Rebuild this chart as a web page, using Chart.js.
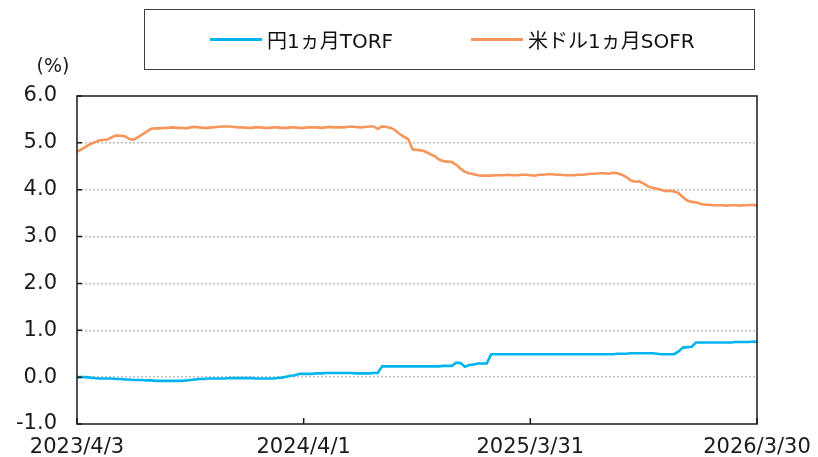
<!DOCTYPE html>
<html>
<head>
<meta charset="utf-8">
<script src="https://cdn.jsdelivr.net/npm/chart.js@4"></script>
<style>
  body { margin: 0; background: #fff; }
  #wrap { position: relative; width: 818px; height: 457px; }
  #legend {
    position: absolute; left: 144px; top: 9px; width: 611px; height: 61px;
    border: 1px solid #404040; box-sizing: border-box;
    font-family: 'DejaVu Sans', 'Noto Sans CJK JP', sans-serif; font-size: 20px; color: #111;
  }
  .item { position: absolute; top: 0; height: 59px; display: flex; align-items: center; }
  .item i { display: inline-block; width: 52px; height: 3px; margin-right: 5px; }
</style>
</head>
<body>
<div id="wrap">
  <canvas id="myChart" width="818" height="457"></canvas>
  <div id="legend"></div>
</div>
<script>
// ==== ma'lumotlar ====
const seriesNames = ['円1ヵ月TORF', '米ドル1ヵ月SOFR'];
const seriesColors = ['#00B4EF', '#F7965A'];
const tickLabels = ['2023/4/3', '2024/4/1', '2025/3/31', '2026/3/30'];
const yTicks = [-1, 0, 1, 2, 3, 4, 5, 6];

// haftalik qiymatlar, 2023/4/3 dan 2026/3/30 gacha (157 hafta)
const torf = [
  0.00, 0.00, 0.00, -0.01, -0.02, -0.03, -0.03, -0.03, -0.03, -0.04,
  -0.04, -0.05, -0.05, -0.06, -0.06, -0.06, -0.07, -0.07, -0.08, -0.08,
  -0.08, -0.08, -0.08, -0.08, -0.08, -0.07, -0.06, -0.05, -0.04, -0.04,
  -0.03, -0.03, -0.03, -0.03, -0.03, -0.02, -0.02, -0.02, -0.02, -0.02,
  -0.02, -0.03, -0.03, -0.03, -0.03, -0.03, -0.02, -0.01, 0.01, 0.03,
  0.04, 0.07, 0.07, 0.07, 0.07, 0.08, 0.08, 0.09, 0.09, 0.09,
  0.09, 0.09, 0.09, 0.09, 0.08, 0.08, 0.08, 0.08, 0.09, 0.09,
  0.23, 0.23, 0.23, 0.23, 0.23, 0.23, 0.23, 0.23, 0.23, 0.23,
  0.23, 0.23, 0.23, 0.23, 0.24, 0.24, 0.24, 0.31, 0.30, 0.22,
  0.26, 0.27, 0.29, 0.29, 0.29, 0.49, 0.49, 0.49, 0.49, 0.49,
  0.49, 0.49, 0.49, 0.49, 0.49, 0.49, 0.49, 0.49, 0.49, 0.49,
  0.49, 0.49, 0.49, 0.49, 0.49, 0.49, 0.49, 0.49, 0.49, 0.49,
  0.49, 0.49, 0.49, 0.49, 0.50, 0.50, 0.50, 0.51, 0.51, 0.51,
  0.51, 0.51, 0.51, 0.50, 0.49, 0.49, 0.49, 0.49, 0.55, 0.63,
  0.64, 0.65, 0.74, 0.74, 0.74, 0.74, 0.74, 0.74, 0.74, 0.74,
  0.74, 0.75, 0.75, 0.75, 0.75, 0.76, 0.75
];

const sofr = [
  4.81, 4.86, 4.92, 4.97, 5.01, 5.05, 5.06, 5.07, 5.12, 5.16,
  5.15, 5.14, 5.08, 5.07, 5.12, 5.18, 5.24, 5.30, 5.31, 5.31,
  5.32, 5.32, 5.33, 5.32, 5.32, 5.31, 5.33, 5.34, 5.33, 5.32,
  5.32, 5.33, 5.34, 5.35, 5.35, 5.35, 5.34, 5.33, 5.33, 5.32,
  5.32, 5.33, 5.33, 5.32, 5.32, 5.33, 5.33, 5.32, 5.32, 5.33,
  5.33, 5.32, 5.32, 5.33, 5.33, 5.33, 5.32, 5.33, 5.34, 5.33,
  5.33, 5.33, 5.34, 5.35, 5.34, 5.33, 5.34, 5.35, 5.35, 5.30,
  5.35, 5.34, 5.32, 5.27, 5.19, 5.13, 5.08, 4.86, 4.85, 4.84,
  4.81, 4.76, 4.72, 4.65, 4.61, 4.60, 4.59, 4.53, 4.45, 4.38,
  4.35, 4.33, 4.31, 4.30, 4.30, 4.30, 4.31, 4.31, 4.31, 4.32,
  4.31, 4.31, 4.32, 4.32, 4.31, 4.30, 4.32, 4.32, 4.33, 4.33,
  4.32, 4.32, 4.31, 4.31, 4.31, 4.32, 4.32, 4.33, 4.34, 4.34,
  4.35, 4.35, 4.34, 4.36, 4.35, 4.32, 4.27, 4.20, 4.17, 4.18,
  4.13, 4.07, 4.04, 4.02, 4.00, 3.97, 3.98, 3.96, 3.93, 3.84,
  3.77, 3.74, 3.73, 3.70, 3.68, 3.68, 3.67, 3.67, 3.67, 3.66,
  3.67, 3.67, 3.66, 3.67, 3.67, 3.68, 3.66
];

// haftalik sanalar (kategoriyalar)
const labels = [];
const startDate = new Date(2023, 3, 3);
for (let i = 0; i < sofr.length; i++) {
  const d = new Date(startDate.getTime());
  d.setDate(d.getDate() + i * 7);
  labels.push(`${d.getFullYear()}/${d.getMonth() + 1}/${d.getDate()}`);
}

const FONT = "'DejaVu Sans', 'Noto Sans CJK JP', sans-serif";
Chart.defaults.font.family = FONT;
Chart.defaults.color = '#1a1a1a';

// ==== legend (HTML) ====
const elLegend = document.getElementById('legend');
const legendLeft = [65, 326];
seriesNames.forEach((name, i) => {
  const item = document.createElement('div');
  item.className = 'item';
  item.style.left = legendLeft[i] + 'px';
  item.innerHTML = `<i style="background:${seriesColors[i]}"></i><span>${name}</span>`;
  elLegend.appendChild(item);
});

// ==== ramka, ichki tiklar va (%) yozuvi ====
const framePlugin = {
  id: 'frame',
  afterDraw(chart) {
    const { ctx, chartArea: a, scales } = chart;
    ctx.save();
    ctx.strokeStyle = '#1a1a1a';
    ctx.lineWidth = 1.5;
    ctx.strokeRect(a.left, a.top, a.right - a.left, a.bottom - a.top);

    ctx.beginPath();
    yTicks.forEach(v => {
      const y = scales.y.getPixelForValue(v);
      ctx.moveTo(a.left, y);
      ctx.lineTo(a.left + 5, y);
    });
    tickLabels.forEach(t => {
      const x = scales.x.getPixelForValue(labels.indexOf(t));
      ctx.moveTo(x, a.bottom);
      ctx.lineTo(x, a.bottom - 6);
    });
    ctx.stroke();

    ctx.fillStyle = '#1a1a1a';
    ctx.font = `19px ${FONT}`;
    ctx.textAlign = 'center';
    ctx.textBaseline = 'middle';
    ctx.fillText('(%)', a.left - 24, a.top - 29);
    ctx.restore();
  }
};

const data = {
  labels: labels,
  datasets: [
    { label: seriesNames[0], data: torf, borderColor: seriesColors[0], backgroundColor: seriesColors[0] },
    { label: seriesNames[1], data: sofr, borderColor: seriesColors[1], backgroundColor: seriesColors[1] }
  ]
};

const config = {
  type: 'line',
  data: data,
  options: {
    responsive: false,
    animation: false,
    layout: { padding: { top: 96, right: 61, bottom: 0, left: 0 } },
    elements: {
      point: { radius: 0 },
      line: { borderWidth: 2.6, tension: 0 }
    },
    plugins: {
      legend: { display: false },
      tooltip: { enabled: false }
    },
    scales: {
      x: {
        grid: { display: false },
        border: { display: false },
        ticks: {
          autoSkip: false,
          maxRotation: 0,
          padding: 3,
          font: { size: 21 },
          callback: function (v, i) {
            const lab = labels[i];
            return tickLabels.includes(lab) ? lab : null;
          }
        },
        afterFit: s => { s.height = 33; }
      },
      y: {
        min: -1,
        max: 6,
        ticks: {
          stepSize: 1,
          padding: 20,
          font: { size: 21 },
          callback: v => v.toFixed(1)
        },
        grid: {
          drawTicks: false,
          lineWidth: 1.5,
          color: c => (c.tick && c.tick.value > -1 && c.tick.value < 6) ? '#BFBFBF' : 'transparent'
        },
        border: { display: false, dash: [2, 2] },
        afterFit: s => { s.width = 77; }
      }
    }
  },
  plugins: [framePlugin]
};

let myChart = new Chart(document.getElementById('myChart'), config);
</script>
</body>
</html>
